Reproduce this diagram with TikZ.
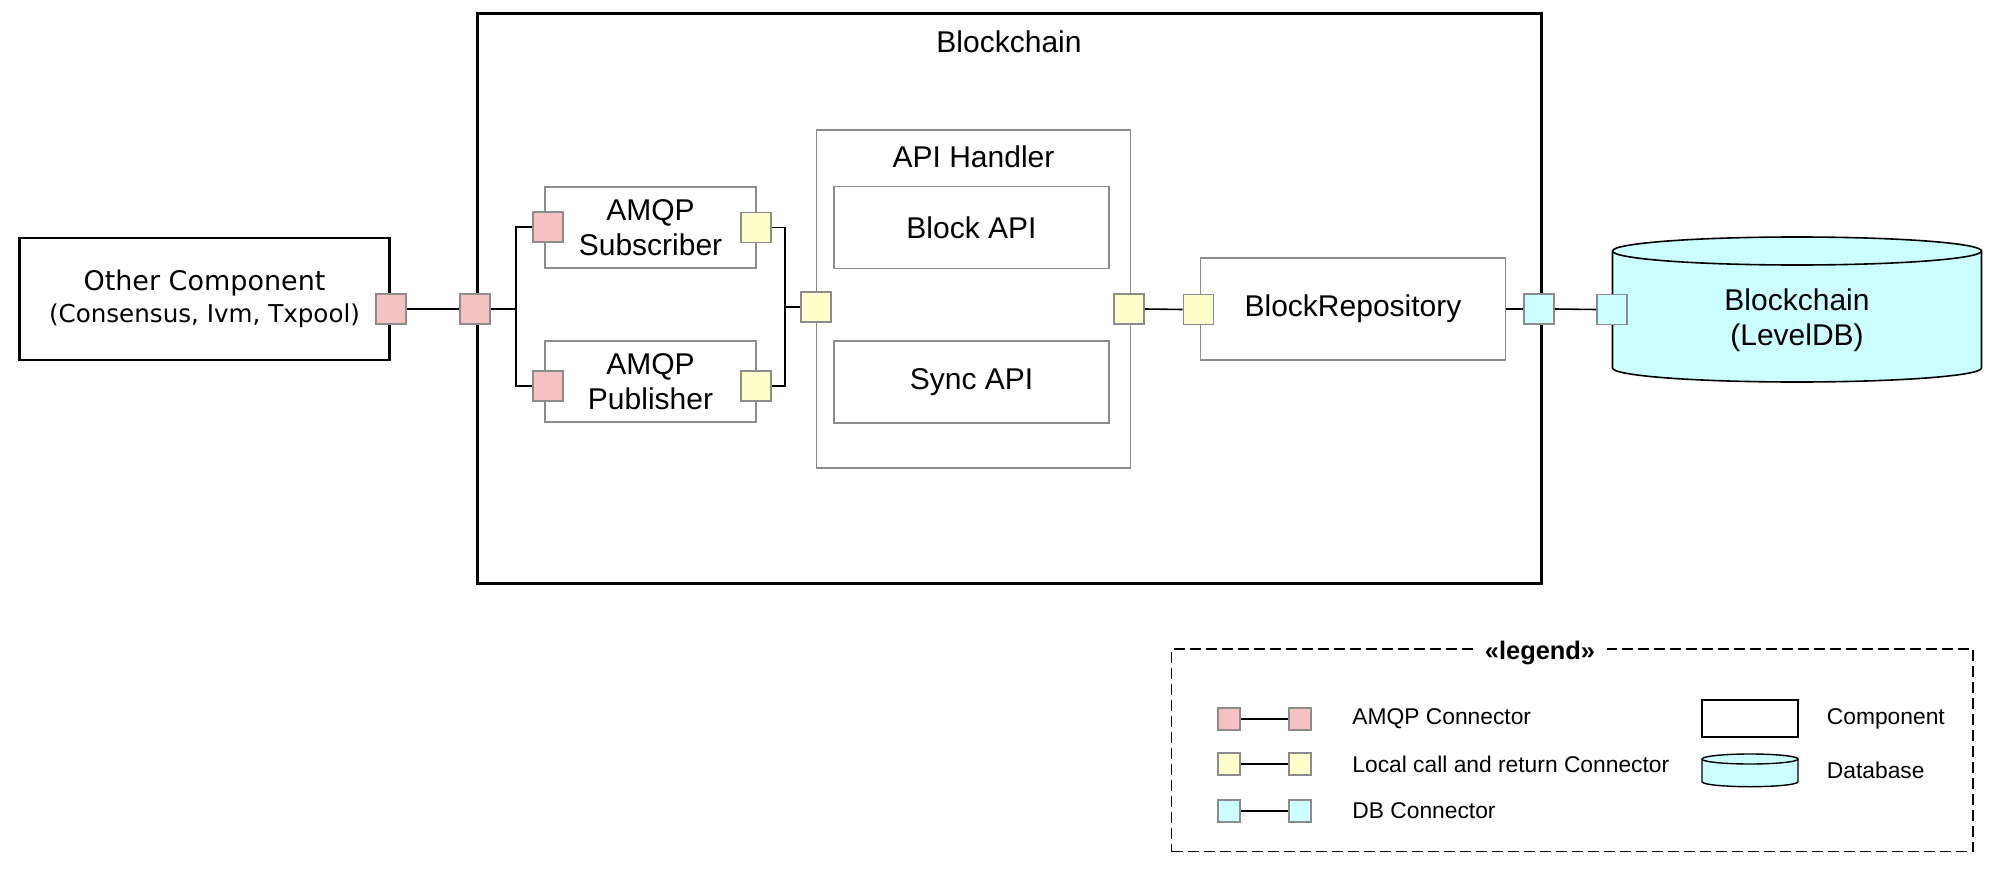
\documentclass[tikz,border=0pt]{standalone}
\usepackage{fontspec}
\setmainfont{Liberation Sans}
\newfontfamily\lucidafont{DejaVu Sans}
\definecolor{amqpc}{HTML}{F4C2C2}
\definecolor{localc}{HTML}{FFFFCC}
\definecolor{dbc}{HTML}{CCFFFF}
\definecolor{portgray}{HTML}{8C8C8C}
\definecolor{boxgray}{HTML}{8C8C8C}
\tikzset{
  comp/.style={draw=black, line width=1.4pt, fill=white, inner sep=0pt},
  subbox/.style={draw=boxgray, line width=0.7pt, fill=white, inner sep=0pt, align=center},
  port/.style={draw=portgray, line width=0.9pt, minimum size=15pt, inner sep=0pt},
  lport/.style={draw=portgray, line width=0.8pt, minimum size=11pt, inner sep=0pt},
  conn/.style={draw=black, line width=0.8pt},
  mainfont/.style={font=\fontsize{15}{17.5}\selectfont},
  legfont/.style={font=\fontsize{11.4}{13}\selectfont, anchor=west, inner sep=0pt},
}
\begin{document}
\begin{tikzpicture}[x=0.5pt, y=-0.5pt]
\useasboundingbox (0,0) rectangle (1996,872);

% outer Blockchain component
\node[comp, line width=1.5pt, minimum width=532pt, minimum height=284.5pt] (bc) at (1009,298.5) {};
\node[mainfont] (bctitle) at (1009,42) {Blockchain};

% other component
\node[comp, minimum width=184.75pt, minimum height=61pt, align=center,
      font=\lucidafont\fontsize{13.5}{16}\selectfont] (other) at (204.5,299)
      {Other Component\\{\fontsize{12.3}{16}\selectfont (Consensus, Ivm, Txpool)}};

% AMQP subscriber / publisher
\node[subbox, mainfont, minimum width=105.5pt, minimum height=40.5pt] (sub) at (650.5,227.5) {AMQP\\Subscriber};
\node[subbox, mainfont, minimum width=105.5pt, minimum height=40.5pt] (pub) at (650.5,381.5) {AMQP\\Publisher};

% API handler
\node[subbox, minimum width=157pt, minimum height=169pt] (api) at (973.5,299) {};
\node[mainfont] (apititle) at (973.5,157) {API Handler};
\node[subbox, mainfont, minimum width=137.5pt, minimum height=41pt] (blockapi) at (971.5,227.7) {Block API};
\node[subbox, mainfont, minimum width=137.5pt, minimum height=41pt] (syncapi) at (971.5,382) {Sync API};

% BlockRepository
\node[subbox, mainfont, minimum width=152.5pt, minimum height=51pt] (repo) at (1353,309) {BlockRepository};

% Database cylinder
\fill[dbc] (1612.5,251) -- (1612.5,368) arc[start angle=180, end angle=360, x radius=92.25pt, y radius=7pt]
  -- (1981.5,251) arc[start angle=0, end angle=180, x radius=92.25pt, y radius=7pt] -- cycle;
\draw[line width=0.8pt] (1612.5,251) -- (1612.5,368) arc[start angle=180, end angle=360, x radius=92.25pt, y radius=7pt]
  -- (1981.5,251);
\draw[line width=0.8pt] (1797,251) ellipse[x radius=92.25pt, y radius=7pt];
\node[mainfont, align=center] (dbtext) at (1797,320) {Blockchain\\(LevelDB)};

% ports
\node[port, fill=amqpc] (O1) at (391,309) {};
\node[port, fill=amqpc] (B1) at (475,309) {};
\node[port, fill=amqpc] (sL) at (548,227) {};
\node[port, fill=localc] (sR) at (755.6,227.5) {};
\node[port, fill=amqpc] (pL) at (548,386) {};
\node[port, fill=localc] (pR) at (755.6,386) {};
\node[port, fill=localc] (aL) at (816,307) {};
\node[port, fill=localc] (aR) at (1129,309) {};
\node[port, fill=localc] (rL) at (1198.5,309.5) {};
\node[port, fill=dbc] (bO) at (1539,309) {};
\node[port, fill=dbc] (dP) at (1612,309.5) {};

% connectors
\coordinate (busL) at (516,309);
\coordinate (busR) at (785,307);
\draw[conn] (O1.east) -- (B1.west);
\draw[conn] (B1.east) -- (busL);
\draw[conn] (sL.west) -| (busL) |- (pL.west);
\draw[conn] (sR.east) -| (busR) |- (pR.east);
\draw[conn] (busR) -- (aL.west);
\draw[conn] (aR.east) -- (rL.west);
\draw[conn] (repo.east) -- (bO.west);
\draw[conn] (bO.east) -- (dP.west);

% legend
\node[draw=black, line width=0.75pt, dash pattern=on 5.5pt off 2.5pt, minimum width=400.65pt, minimum height=101.35pt, inner sep=0pt] (legend) at (1572.35,750.35) {};
\node[fill=white, inner xsep=6pt, inner ysep=1pt, font=\bfseries\fontsize{12.7}{14}\selectfont] (legtitle) at (1540,653) {«legend»};

\node[lport, fill=amqpc] (la1) at (1229,719) {};
\node[lport, fill=amqpc] (la2) at (1300,719) {};
\node[lport, fill=localc] (ll1) at (1229,764) {};
\node[lport, fill=localc] (ll2) at (1300,764) {};
\node[lport, fill=dbc] (ld1) at (1229,811) {};
\node[lport, fill=dbc] (ld2) at (1300,811) {};
\draw[conn] (la1.east) -- (la2.west);
\draw[conn] (ll1.east) -- (ll2.west);
\draw[conn] (ld1.east) -- (ld2.west);
\node[legfont] (lta) at (1352,719) {AMQP Connector};
\node[legfont] (ltl) at (1352,764) {Local call and return Connector};
\node[legfont] (ltd) at (1352,811) {DB Connector};

\node[comp, minimum width=48pt, minimum height=18.5pt] (lcomp) at (1750,718.5) {};
\node[legfont] (ltc) at (1826.5,719) {Component};

\fill[dbc] (1702,759) -- (1702,781.7) arc[start angle=180, end angle=360, x radius=24pt, y radius=2.5pt]
  -- (1798,759) arc[start angle=0, end angle=180, x radius=24pt, y radius=2.5pt] -- cycle;
\draw[line width=0.7pt] (1702,759) -- (1702,781.7) arc[start angle=180, end angle=360, x radius=24pt, y radius=2.5pt]
  -- (1798,759);
\draw[line width=0.7pt] (1750,759) ellipse[x radius=24pt, y radius=2.5pt];
\node[legfont] (ltdb) at (1826.5,770) {Database};
\end{tikzpicture}
\end{document}
